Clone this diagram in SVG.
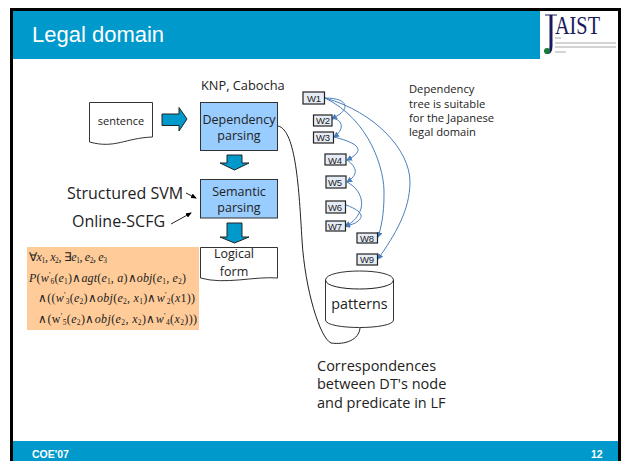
<svg xmlns="http://www.w3.org/2000/svg" width="621" height="461" viewBox="0 0 621 461">
<defs>
<marker id="bh" markerUnits="userSpaceOnUse" markerWidth="6" markerHeight="6" refX="5" refY="3" orient="auto"><path d="M0,0 L6,3 L0,6 Z" fill="#4a7ebb"/></marker>
<marker id="kh" markerUnits="userSpaceOnUse" markerWidth="6" markerHeight="5" refX="5" refY="2.5" orient="auto"><path d="M0,0 L6,2.5 L0,5 Z" fill="#000"/></marker>
</defs>
<style>
text{font-family:"Open Sans","DejaVu Sans",sans-serif;fill:#222}
.box{fill:#99ccff;stroke:#333;stroke-width:1}
.arr{fill:#0099cc;stroke:#222;stroke-width:1}
.doc{fill:#fff;stroke:#333;stroke-width:1}
.w{fill:#e6ecf6;stroke:#222;stroke-width:1.2}
.wt{font-family:"Liberation Sans",sans-serif;font-size:9.5px;text-anchor:middle;fill:#222}
.lb{font-size:12.500px;text-anchor:middle}
.ed{fill:none;stroke:#4a7ebb;stroke-width:1;marker-end:url(#bh)}
.m{font-family:"Liberation Serif",serif;font-size:12px;fill:#222}
.s{font-size:7.5px}
.p{font-size:8px}
.i{font-style:italic}
.ln{fill:none;stroke:#222;stroke-width:1}
</style>
<rect width="621" height="461" fill="#fff"/>
<g id="frame">
<rect x="10" y="8" width="611" height="3" fill="#000"/>
<rect x="10" y="8" width="3" height="453" fill="#000"/>
<rect x="618" y="8" width="3" height="453" fill="#000"/>
<rect x="13" y="11" width="527" height="48" fill="#0099cc"/>
<rect x="13" y="441" width="605" height="20" fill="#0099cc"/>
<text x="32" y="42" style="font-family:'Liberation Sans',sans-serif;font-size:22px;fill:#fff">Legal domain</text>
<text x="32" y="458" style="font-family:'Liberation Sans',sans-serif;font-size:10.500px;font-weight:bold;fill:#fff">COE'07</text>
<text x="591" y="458" style="font-family:'Liberation Sans',sans-serif;font-size:10.500px;font-weight:bold;fill:#fff">12</text>
</g>
<g id="logo">
<text x="555" y="34" textLength="45" lengthAdjust="spacingAndGlyphs" style="font-family:'Liberation Serif',serif;font-size:26px;fill:#1a1a5c">AIST</text>
<path d="M551,15 V46 Q551,54 546,52" fill="none" stroke="#1a1a5c" stroke-width="3"/>
<path d="M545,15 H557" stroke="#1a1a5c" stroke-width="1"/>
<circle cx="547" cy="51" r="3" fill="#1a7a3a"/>
<g stroke="#a8a8a8" stroke-width="1"><path d="M555,43 H616"/><path d="M555,47 H616"/><path d="M555,38 H561"/><path d="M555,52 H566"/></g>
</g>
<g id="connectors">
<path class="arr" d="M162,114 H179 V107.500 L187,119 L179,131 V125.500 H162 Z"/>
<path class="arr" d="M227,155 H242 V163 H249 L234.500,170 L220,163 H227 Z"/>
<path class="arr" d="M227,223 H242 V237 H249 L234.500,243 L220,237 H227 Z"/>
<path class="ln" marker-end="url(#kh)" d="M186,193 L196,198"/>
<path class="ln" marker-end="url(#kh)" d="M171,224 L191,213"/>
<path class="ln" d="M278,126 C296,130 299,190 302,240 C305,290 320,338 331,343 C345,345 359,340 360,328"/>
<path class="ed" d="M325,98 C345,98 350,106 340,114 L332,119"/>
<path class="ed" d="M332,118 C344,120 344,130 334,137"/>
<path class="ed" d="M334,137 C358,143 367,150 347,160"/>
<path class="ed" d="M347,160 C358,168 358,175 347,182"/>
<path class="ed" d="M347,182 C362,190 365,205 358,215 C355,220 352,223 345,226"/>
<path class="ed" d="M346,205 C360,210 365,216 358,221 C355,224 350,225 345,226"/>
<path class="ed" d="M325,98 C370,120 385,170 384,195 C384,215 381,228 378,237"/>
<path class="ed" d="M325,98 C375,112 410,150 410,182 C410,210 395,235 378,259"/>
</g>
<g id="sentence">
<path class="doc" d="M89.500,102.500 H152.500 V137 C125,138 115,149 89.500,142 Z"/>
<text x="121" y="125" style="font-size:11px;text-anchor:middle">sentence</text>
</g>
<g id="dependency">
<rect class="box" x="200.500" y="102.500" width="77" height="48"/>
<text class="lb" x="239" y="124">Dependency</text>
<text class="lb" x="239" y="140">parsing</text>
</g>
<g id="semantic">
<rect class="box" x="200.500" y="179.500" width="77" height="38.500"/>
<text class="lb" x="239" y="196">Semantic</text>
<text class="lb" x="239" y="212">parsing</text>
</g>
<g id="logical">
<path class="doc" d="M200.500,247.500 H277.500 V278 C255,276 225,285 200.500,278 Z"/>
<text class="lb" x="234" y="258">Logical</text>
<text class="lb" x="234" y="276">form</text>
</g>
<g id="formula">
<rect x="27" y="247" width="172" height="83" fill="#ffcc99"/>
<text class="m" x="29" y="261" textLength="78">∀<tspan class="i">x</tspan><tspan class="s" dy="2">1</tspan><tspan dy="-2">, </tspan><tspan class="i">x</tspan><tspan class="s" dy="2">2</tspan><tspan dy="-2">, ∃</tspan><tspan class="i">e</tspan><tspan class="s" dy="2">1</tspan><tspan dy="-2">, </tspan><tspan class="i">e</tspan><tspan class="s" dy="2">2</tspan><tspan dy="-2">, </tspan><tspan class="i">e</tspan><tspan class="s" dy="2">3</tspan></text>
<text class="m" x="29" y="282" textLength="157"><tspan class="i">P</tspan>(<tspan class="i">w</tspan><tspan class="p" dy="-4">'</tspan><tspan class="s" dy="6">6</tspan><tspan dy="-2">(</tspan><tspan class="i">e</tspan><tspan class="s" dy="2">1</tspan><tspan dy="-2">)∧</tspan><tspan class="i">agt</tspan>(<tspan class="i">e</tspan><tspan class="s" dy="2">1</tspan><tspan dy="-2">, </tspan><tspan class="i">a</tspan>)∧<tspan class="i">obj</tspan>(<tspan class="i">e</tspan><tspan class="s" dy="2">1</tspan><tspan dy="-2">, </tspan><tspan class="i">e</tspan><tspan class="s" dy="2">2</tspan><tspan dy="-2">)</tspan></text>
<text class="m" x="38" y="302" textLength="157">∧((<tspan class="i">w</tspan><tspan class="p" dy="-4">'</tspan><tspan class="s" dy="6">3</tspan><tspan dy="-2">(</tspan><tspan class="i">e</tspan><tspan class="s" dy="2">2</tspan><tspan dy="-2">)∧</tspan><tspan class="i">obj</tspan>(<tspan class="i">e</tspan><tspan class="s" dy="2">2</tspan><tspan dy="-2">, </tspan><tspan class="i">x</tspan><tspan class="s" dy="2">1</tspan><tspan dy="-2">)∧</tspan><tspan class="i">w</tspan><tspan class="p" dy="-4">'</tspan><tspan class="s" dy="6">2</tspan><tspan dy="-2">(</tspan><tspan class="i">x</tspan>1))</text>
<text class="m" x="38" y="323" textLength="159">∧(w<tspan class="p" dy="-4">'</tspan><tspan class="s" dy="6">5</tspan><tspan dy="-2">(</tspan><tspan class="i">e</tspan><tspan class="s" dy="2">2</tspan><tspan dy="-2">)∧</tspan><tspan class="i">obj</tspan>(<tspan class="i">e</tspan><tspan class="s" dy="2">2</tspan><tspan dy="-2">, </tspan><tspan class="i">x</tspan><tspan class="s" dy="2">2</tspan><tspan dy="-2">)∧</tspan><tspan class="i">w</tspan><tspan class="p" dy="-4">'</tspan><tspan class="s" dy="6">4</tspan><tspan dy="-2">(</tspan><tspan class="i">x</tspan><tspan class="s" dy="2">2</tspan><tspan dy="-2">)))</tspan></text>
</g>
<g id="w1"><rect class="w" x="303" y="92" width="21.500" height="12"/><text class="wt" x="314" y="101.500">W1</text></g>
<g id="w2"><rect class="w" x="313.500" y="115" width="18.500" height="11"/><text class="wt" x="323" y="124">W2</text></g>
<g id="w3"><rect class="w" x="313.500" y="132" width="20" height="11"/><text class="wt" x="323" y="141">W3</text></g>
<g id="w4"><rect class="w" x="325" y="154" width="21" height="11"/><text class="wt" x="335" y="163.500">W4</text></g>
<g id="w5"><rect class="w" x="326" y="176" width="20" height="12"/><text class="wt" x="335" y="185.500">W5</text></g>
<g id="w6"><rect class="w" x="326" y="201" width="19.500" height="12"/><text class="wt" x="335" y="210.500">W6</text></g>
<g id="w7"><rect class="w" x="326" y="221" width="19.500" height="10"/><text class="wt" x="335" y="229.500">W7</text></g>
<g id="w8"><rect class="w" x="357" y="233" width="20.500" height="10"/><text class="wt" x="367" y="241.500">W8</text></g>
<g id="w9"><rect class="w" x="357" y="254" width="20.500" height="11"/><text class="wt" x="367" y="263">W9</text></g>
<g id="patterns">
<path class="doc" d="M325.500,280 C325.500,268 393.500,268 393.500,280 V320 C393.500,330 325.500,330 325.500,320 Z"/>
<path class="ln" d="M325.500,280 C325.500,292 393.500,292 393.500,280"/>
<text x="359.500" y="309" style="font-size:14.300px;text-anchor:middle">patterns</text>
</g>
<g id="labels">
<text x="201" y="90" style="font-size:12.800px">KNP, Cabocha</text>
<text x="67" y="199" style="font-size:16px">Structured SVM</text>
<text x="72" y="227" style="font-size:16px">Online-SCFG</text>
<g style="font-size:11.200px"><text x="409" y="93">Dependency</text><text x="409" y="108">tree is suitable</text><text x="409" y="122">for the Japanese</text><text x="409" y="136">legal domain</text></g>
<g style="font-size:14.500px"><text x="317" y="371">Correspondences</text><text x="317" y="389">between DT's node</text><text x="317" y="408">and predicate in LF</text></g>
</g>
</svg>
